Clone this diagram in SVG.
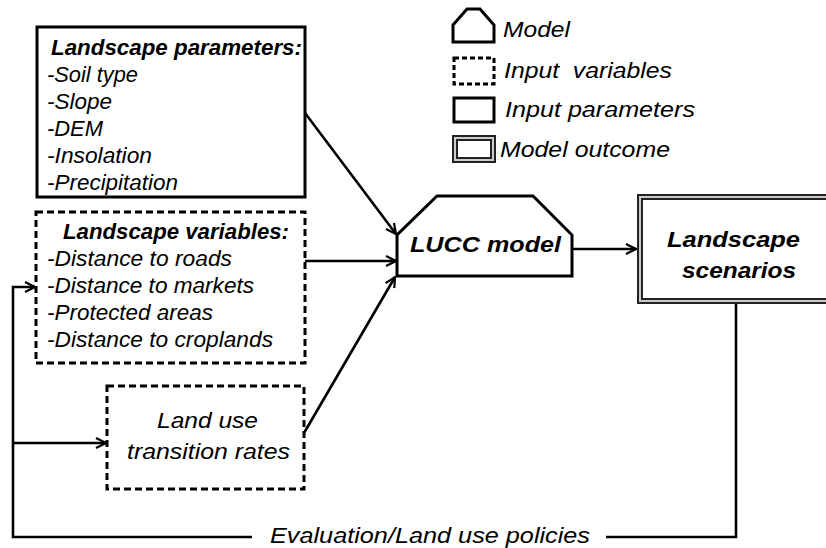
<svg xmlns="http://www.w3.org/2000/svg" width="826" height="548" viewBox="0 0 826 548">
<defs>
<marker id="arr" viewBox="0 0 12 12" refX="11" refY="6" markerWidth="12" markerHeight="12" markerUnits="userSpaceOnUse" orient="auto">
<path d="M1,1 L11,6 L1,11" fill="none" stroke="#000" stroke-width="2.2"/>
</marker>
<style>
.box{fill:#fff;stroke:#000;stroke-width:3}
.dash{fill:#fff;stroke:#000;stroke-width:3;stroke-dasharray:7 4}
.dbl-o{fill:#fff;stroke:#222;stroke-width:6}
.dbl-i{fill:none;stroke:#ccc;stroke-width:2}
.ln{fill:none;stroke:#000;stroke-width:2.6}
.t{font-family:"Liberation Sans",Arial,sans-serif;font-style:italic;font-size:22px;fill:#000}
.b{font-weight:bold}
</style>
</defs>
<rect width="826" height="548" fill="#fff"/>
<g id="connectors">
<path class="ln" d="M305,113 L396,234" marker-end="url(#arr)"/>
<path class="ln" d="M305,261 L396,261" marker-end="url(#arr)"/>
<path class="ln" d="M304,433 L395,277" marker-end="url(#arr)"/>
<path class="ln" d="M572,249 L636,249" marker-end="url(#arr)"/>
<path class="ln" d="M736,303 L736,537 L606,537"/>
<path class="ln" d="M252,537 L13,537 L13,287 L35,287" marker-end="url(#arr)"/>
<path class="ln" d="M13,443 L106,443" marker-end="url(#arr)"/>
</g>
<g id="params">
<rect class="box" x="37" y="27" width="268" height="170"/>
<text class="t b" x="51" y="55" font-size="21.5" textLength="251" lengthAdjust="spacingAndGlyphs">Landscape parameters:</text>
<text class="t" x="47" y="82" textLength="91" lengthAdjust="spacingAndGlyphs">-Soil type</text>
<text class="t" x="47" y="109" textLength="65" lengthAdjust="spacingAndGlyphs">-Slope</text>
<text class="t" x="47" y="136" textLength="56" lengthAdjust="spacingAndGlyphs">-DEM</text>
<text class="t" x="47" y="163" textLength="105" lengthAdjust="spacingAndGlyphs">-Insolation</text>
<text class="t" x="47" y="190" textLength="131" lengthAdjust="spacingAndGlyphs">-Precipitation</text>
</g>
<g id="variables">
<rect class="dash" x="36" y="212" width="269" height="151"/>
<text class="t b" x="63" y="239" font-size="21.5" textLength="226" lengthAdjust="spacingAndGlyphs">Landscape variables:</text>
<text class="t" x="47" y="266" textLength="185" lengthAdjust="spacingAndGlyphs">-Distance to roads</text>
<text class="t" x="47" y="293" textLength="207" lengthAdjust="spacingAndGlyphs">-Distance to markets</text>
<text class="t" x="47" y="320" textLength="166" lengthAdjust="spacingAndGlyphs">-Protected areas</text>
<text class="t" x="47" y="347" textLength="226" lengthAdjust="spacingAndGlyphs">-Distance to croplands</text>
</g>
<g id="rates">
<rect class="dash" x="107" y="386" width="197" height="103"/>
<text class="t" x="157" y="428" font-size="24.5" textLength="101" lengthAdjust="spacingAndGlyphs">Land use</text>
<text class="t" x="127" y="459" font-size="24.5" textLength="163" lengthAdjust="spacingAndGlyphs">transition rates</text>
</g>
<g id="lucc">
<path class="box" d="M437,196 L533,196 L572,235 L572,276 L397,276 L397,235 Z"/>
<text class="t b" x="410" y="252" font-size="26" textLength="151" lengthAdjust="spacingAndGlyphs">LUCC model</text>
</g>
<g id="scenarios">
<rect class="dbl-o" x="640" y="197" width="200" height="104"/>
<rect class="dbl-i" x="640" y="197" width="200" height="104"/>
<text class="t b" x="667" y="247" font-size="26" textLength="133" lengthAdjust="spacingAndGlyphs">Landscape</text>
<text class="t b" x="682" y="278" font-size="26" textLength="114" lengthAdjust="spacingAndGlyphs">scenarios</text>
</g>
<g id="feedback-label">
<text class="t" x="270" y="543" font-size="24.5" textLength="320" lengthAdjust="spacingAndGlyphs">Evaluation/Land use policies</text>
</g>
<g id="legend">
<path class="box" d="M453,42 L453,25 L467,9 L480,9 L494,25 L494,42 Z" stroke-width="2.6"/>
<text class="t" x="503" y="37" font-size="24" textLength="67" lengthAdjust="spacingAndGlyphs">Model</text>
<rect class="dash" x="454" y="58" width="40" height="26" stroke-width="2.6" style="stroke-dasharray:5 3"/>
<text class="t" x="504" y="78" font-size="24" textLength="168" lengthAdjust="spacingAndGlyphs" xml:space="preserve">Input  variables</text>
<rect class="box" x="454" y="98" width="40" height="24" stroke-width="2.6"/>
<text class="t" x="505" y="117" font-size="24" textLength="190" lengthAdjust="spacingAndGlyphs">Input parameters</text>
<rect class="dbl-o" x="455" y="138" width="38" height="22" stroke-width="5"/>
<rect class="dbl-i" x="455" y="138" width="38" height="22" stroke-width="1.6"/>
<text class="t" x="500" y="157" font-size="24" textLength="170" lengthAdjust="spacingAndGlyphs">Model outcome</text>
</g>
</svg>
